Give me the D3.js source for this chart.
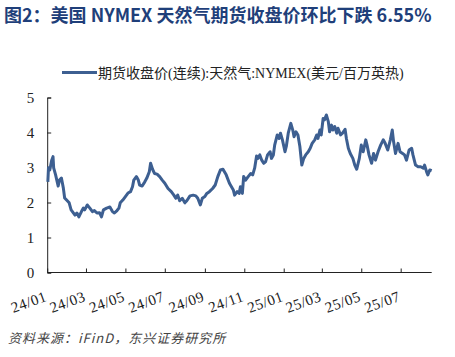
<!DOCTYPE html>
<html><head><meta charset="utf-8">
<script src="https://cdn.jsdelivr.net/npm/d3@7"></script>
<style>
body{margin:0;background:#fff;}
svg{display:block;}
</style></head>
<body>
<svg id="chart" width="455" height="357"></svg>
<script>
const titleText = "图2：美国 NYMEX 天然气期货收盘价环比下跌 6.55%";
const legendText = "期货收盘价(连续):天然气:NYMEX(美元/百万英热)";
const sourceText = "资料来源：iFinD，东兴证券研究所";
const yTicks = [0, 1, 2, 3, 4, 5];
const dates = ["2024-01-02","2024-01-03","2024-01-05","2024-01-08","2024-01-10","2024-01-11","2024-01-14","2024-01-18","2024-01-20","2024-01-23","2024-01-26","2024-01-28","2024-01-31",
"2024-02-04","2024-02-07","2024-02-13","2024-02-16","2024-02-19","2024-02-23","2024-02-26","2024-02-28",
"2024-03-03","2024-03-07","2024-03-11","2024-03-14","2024-03-18","2024-03-22","2024-03-25","2024-03-28",
"2024-04-02","2024-04-07","2024-04-11","2024-04-14","2024-04-18","2024-04-21","2024-04-23","2024-04-27",
"2024-05-01","2024-05-05","2024-05-09","2024-05-12","2024-05-14","2024-05-18","2024-05-21","2024-05-23","2024-05-27","2024-05-31",
"2024-06-03","2024-06-07","2024-06-09","2024-06-12","2024-06-15","2024-06-19","2024-06-23","2024-06-27",
"2024-07-01","2024-07-06","2024-07-11","2024-07-15","2024-07-18","2024-07-21","2024-07-24","2024-07-28",
"2024-08-01","2024-08-04","2024-08-09","2024-08-14","2024-08-18","2024-08-21","2024-08-25","2024-08-28",
"2024-09-01","2024-09-04","2024-09-08","2024-09-13","2024-09-17","2024-09-21","2024-09-25","2024-09-29",
"2024-10-04","2024-10-09","2024-10-15","2024-10-17","2024-10-21","2024-10-24","2024-10-26","2024-10-29","2024-10-31",
"2024-11-03","2024-11-07","2024-11-11","2024-11-14","2024-11-17","2024-11-20","2024-11-22","2024-11-25","2024-11-28",
"2024-12-01","2024-12-04","2024-12-07","2024-12-11","2024-12-13","2024-12-16","2024-12-18","2024-12-22","2024-12-25","2024-12-27","2024-12-30",
"2025-01-03","2025-01-05","2025-01-08","2025-01-12","2025-01-15","2025-01-17","2025-01-20","2025-01-23","2025-01-26","2025-01-29",
"2025-02-01","2025-02-04","2025-02-08","2025-02-11","2025-02-14","2025-02-18","2025-02-21","2025-02-23","2025-02-26","2025-02-28",
"2025-03-03","2025-03-05","2025-03-08","2025-03-11","2025-03-13","2025-03-16","2025-03-18","2025-03-21","2025-03-24","2025-03-26","2025-03-30",
"2025-04-02","2025-04-06","2025-04-08","2025-04-11","2025-04-14","2025-04-18","2025-04-21","2025-04-24","2025-04-28",
"2025-05-01","2025-05-04","2025-05-08","2025-05-10","2025-05-13","2025-05-17","2025-05-20","2025-05-23","2025-05-27","2025-05-31",
"2025-06-04","2025-06-07","2025-06-11","2025-06-15","2025-06-18","2025-06-20","2025-06-23","2025-06-27","2025-06-30",
"2025-07-04","2025-07-07","2025-07-10","2025-07-14","2025-07-18","2025-07-20","2025-07-24","2025-07-28",
"2025-08-01","2025-08-05","2025-08-07","2025-08-10","2025-08-12","2025-08-15","2025-08-18"];
const prices = [2.59,2.99,2.93,3.21,3.31,2.99,2.79,2.47,2.64,2.70,2.41,2.13,2.07,
1.99,1.79,1.64,1.70,1.59,1.74,1.84,1.79,
1.93,1.84,1.74,1.77,1.70,1.71,1.59,1.79,
1.84,1.87,1.74,1.70,1.77,1.84,1.99,2.07,
2.17,2.27,2.31,2.45,2.64,2.74,2.64,2.50,2.47,2.59,
2.69,2.88,3.12,2.95,2.83,2.81,2.74,2.64,
2.55,2.40,2.31,2.21,2.12,2.21,2.05,2.12,
1.99,2.05,2.19,2.21,2.19,2.12,1.93,2.12,
2.17,2.26,2.31,2.40,2.50,2.74,2.93,2.95,
2.79,2.55,2.36,2.21,2.31,2.26,2.45,2.26,2.74,
2.64,2.74,2.83,2.79,2.98,3.33,3.26,3.36,3.21,
3.12,3.17,3.36,3.45,3.26,3.36,3.64,3.93,3.83,3.98,3.79,
3.45,3.60,3.98,4.26,4.07,3.88,4.02,3.93,3.60,3.07,
3.26,3.36,3.45,3.55,3.69,3.79,3.93,3.83,4.07,3.93,
4.40,4.36,4.50,4.31,4.02,4.21,4.07,4.17,3.98,4.12,3.93,
3.98,4.09,3.83,3.55,3.40,3.26,3.07,2.95,3.26,
3.64,3.45,3.79,3.64,3.36,3.12,3.40,3.21,3.45,3.64,
3.79,3.69,3.50,3.79,4.07,3.74,3.40,3.69,3.45,
3.40,3.36,3.21,3.50,3.55,3.36,3.07,3.02,
3.02,2.98,3.07,2.88,2.79,2.93,2.91];

const parse = d3.timeParse("%Y-%m-%d");
const data = dates.map((d, i) => ({date: parse(d), value: prices[i]}));

const svg = d3.select("#chart");
const x = d3.scaleTime().domain([parse("2024-01-01"), parse("2025-08-18")]).range([47.2, 431.7]);
const y = d3.scaleLinear().domain([0, 5]).range([272.5, 97.5]);

// title
svg.append("text").attr("x", 4).attr("y", 22)
  .attr("font-family", "'Noto Sans CJK SC', 'Noto Sans', sans-serif")
  .attr("font-weight", "bold").attr("font-size", 18)
  .attr("fill", "#1f3f7a").text(titleText);

// legend
svg.append("line").attr("x1", 62).attr("x2", 97).attr("y1", 72.5).attr("y2", 72.5)
  .attr("stroke", "#3d5f91").attr("stroke-width", 3);
svg.append("text").attr("x", 98).attr("y", 77.5)
  .attr("font-family", "'Liberation Serif', 'Noto Sans CJK SC', serif")
  .attr("font-size", 14).attr("fill", "#222").text(legendText);

// y axis
const yAxis = d3.axisLeft(y).tickValues(yTicks).tickSize(-4).tickPadding(13).tickFormat(d3.format("d"));
const gy = svg.append("g").attr("transform", "translate(47.2,0)").call(yAxis);
gy.select(".domain").attr("stroke", "#222");
gy.selectAll(".tick line").attr("stroke", "#222");
gy.selectAll("text").attr("font-family", "'Liberation Serif', serif").attr("font-size", 15).attr("fill", "#222");

// x axis
const xAxis = d3.axisBottom(x).ticks(d3.timeMonth.every(2)).tickSize(-4).tickFormat(d3.timeFormat("%y/%m"));
const gx = svg.append("g").attr("transform", "translate(0,272.5)").call(xAxis);
gx.select(".domain").attr("stroke", "#222").attr("d", "M47.2,0H431.7");
gx.selectAll(".tick line").attr("stroke", "#222");
gx.selectAll("text").attr("font-family", "'Liberation Serif', serif").attr("font-size", 15).attr("fill", "#222")
  .attr("letter-spacing", 0.5)
  .attr("text-anchor", "end").attr("dy", 0).attr("y", 0)
  .attr("transform", "translate(0,28) rotate(-20)");

// line
const line = d3.line().x(d => x(d.date)).y(d => y(d.value));
svg.append("path").datum(data).attr("d", line).attr("fill", "none")
  .attr("stroke", "#3d5f91").attr("stroke-width", 3).attr("stroke-linejoin", "round");

// source
svg.append("text").attr("x", 8).attr("y", 343)
  .attr("font-family", "'Noto Sans CJK SC', sans-serif").attr("font-style", "italic")
  .attr("font-size", 13).attr("letter-spacing", 1).attr("fill", "#444").text(sourceText);
</script>
</body></html>
